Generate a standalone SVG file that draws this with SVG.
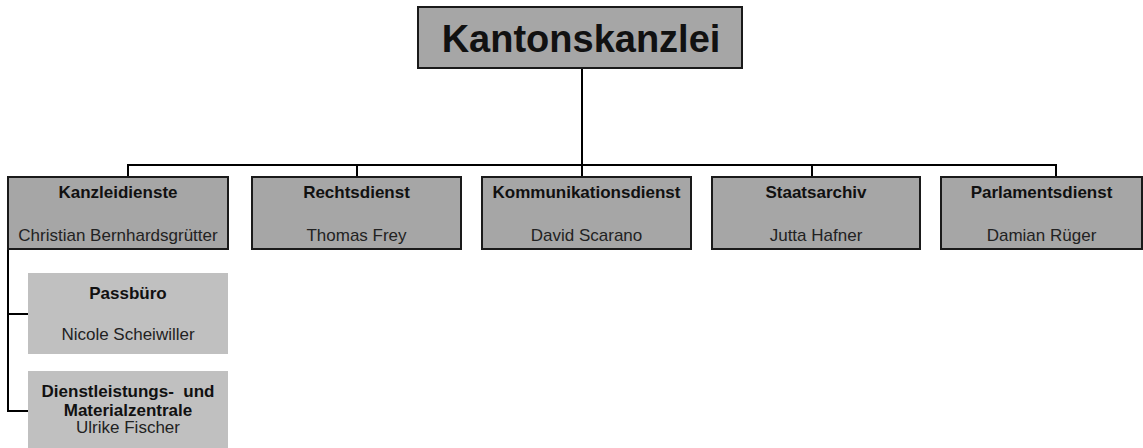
<svg xmlns="http://www.w3.org/2000/svg" width="1143" height="448" viewBox="0 0 1143 448">
<style>
.main{fill:#a6a6a6;stroke:#1a1a1a;stroke-width:2}
.sub{fill:#c0c0c0;stroke:none}
.t{font-family:"Liberation Sans",Arial,sans-serif;font-size:17px;fill:#111;text-anchor:middle}
.b{font-weight:bold}
.n{fill:#222}
.c{fill:none;stroke:#000;stroke-width:2}
</style>
<rect width="1143" height="448" fill="#fff"/>
<g id="connectors">
<path class="c" d="M582,68 V165"/>
<path class="c" d="M128,177 V165 H1056 V177"/>
<path class="c" d="M357,165 V177 M582,165 V177 M812,165 V177"/>
<path class="c" d="M8,249 V411 H28 M8,314 H28"/>
</g>
<g id="kantonskanzlei">
<rect class="main" x="418" y="7" width="324" height="61"/>
<text class="t b" x="581" y="52" style="font-size:38px">Kantonskanzlei</text>
</g>
<g id="kanzleidienste">
<rect class="main" x="8" y="177" width="220" height="72"/>
<text class="t b" x="118" y="198">Kanzleidienste</text>
<text class="t n" x="118" y="241">Christian Bernhardsgrütter</text>
</g>
<g id="rechtsdienst">
<rect class="main" x="252" y="177" width="209" height="72"/>
<text class="t b" x="356.5" y="198">Rechtsdienst</text>
<text class="t n" x="356.5" y="241">Thomas Frey</text>
</g>
<g id="kommunikationsdienst">
<rect class="main" x="482" y="177" width="209" height="72"/>
<text class="t b" x="586.5" y="198">Kommunikationsdienst</text>
<text class="t n" x="586.5" y="241">David Scarano</text>
</g>
<g id="staatsarchiv">
<rect class="main" x="712" y="177" width="208" height="72"/>
<text class="t b" x="816" y="198">Staatsarchiv</text>
<text class="t n" x="816" y="241">Jutta Hafner</text>
</g>
<g id="parlamentsdienst">
<rect class="main" x="941" y="177" width="201" height="72"/>
<text class="t b" x="1041.5" y="198">Parlamentsdienst</text>
<text class="t n" x="1041.5" y="241">Damian Rüger</text>
</g>
<g id="passbuero">
<rect class="sub" x="28" y="273" width="200" height="81"/>
<text class="t b" x="128" y="299">Passbüro</text>
<text class="t n" x="128" y="340">Nicole Scheiwiller</text>
</g>
<g id="dienstleistungs-materialzentrale">
<rect class="sub" x="28" y="371" width="200" height="77"/>
<text class="t b" x="128" y="397" xml:space="preserve">Dienstleistungs-  und</text>
<text class="t b" x="128" y="416">Materialzentrale</text>
<text class="t n" x="128" y="433">Ulrike Fischer</text>
</g>
</svg>
